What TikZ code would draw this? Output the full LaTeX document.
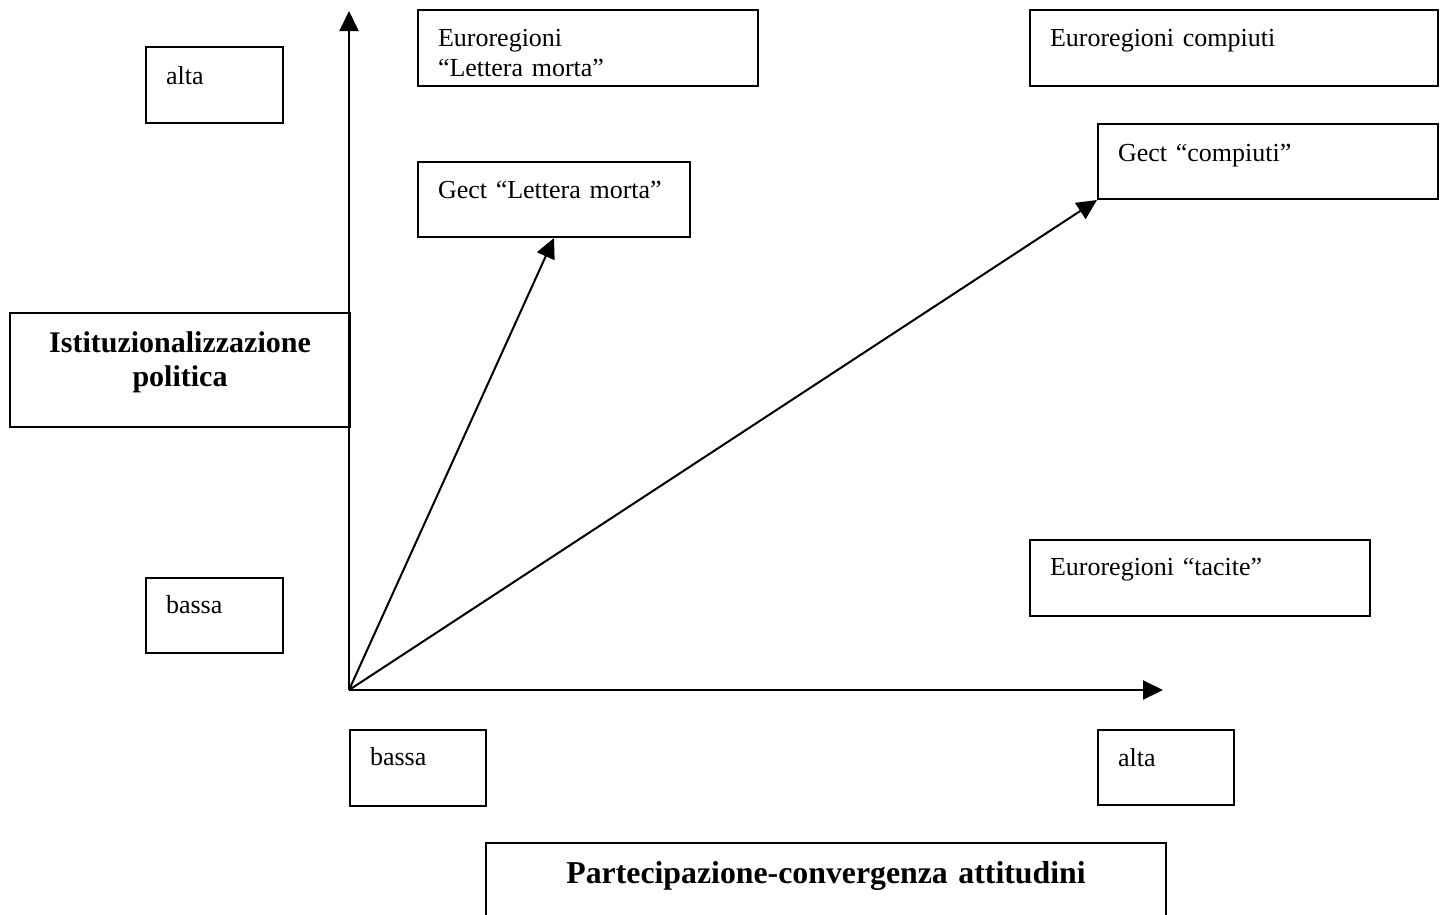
\documentclass[tikz,border=0pt]{standalone}
\usepackage{fontspec}
\setmainfont{Liberation Serif}
\usetikzlibrary{arrows.meta,positioning}

\newcommand{\txtfont}{\fontsize{26}{30}\selectfont}
\newcommand{\hdfont}{\fontsize{30}{34}\selectfont\bfseries}

\tikzset{
  % plain label box: text width, height above and depth below first baseline
  tbox/.style n args={3}{rectangle,draw,line width=2pt,
    anchor=north west,inner xsep=20pt,inner ysep=0pt,
    text width=#1,text height=#2,text depth=#3,
    align=left,font=\txtfont},
  % bold axis title box
  hbox/.style n args={3}{rectangle,draw,line width=2pt,
    anchor=north west,inner xsep=20pt,inner ysep=0pt,
    text width=#1,text height=#2,text depth=#3,
    align=center,font=\hdfont},
  % Arrows
  arr/.style={-{Triangle[length=20pt,width=19pt]},line width=2pt},
}

\begin{document}
\begin{tikzpicture}[x=1pt,y=-1pt]
  \clip (0,0) rectangle (1442,914);

  % axes
  \coordinate (o) at (349,690);
  \coordinate (ytop) at (349,11);
  \coordinate (xend) at (1163,690);

  % vertical axis labels
  \node[tbox={97pt}{37pt}{39pt}] (altay) at (145,46) {alta};
  \node[hbox={300pt}{39pt}{75pt}] (istit) at (9,312)
    {Istituzionalizzazione\\ politica};
  \node[tbox={97pt}{35pt}{40pt}] (bassay) at (145,577) {bassa};

  % horizontal axis labels
  \node[tbox={96pt}{35pt}{41pt}] (bassax) at (349,729) {bassa};
  \node[tbox={96pt}{36pt}{39pt}] (altax) at (1097,729) {alta};
  \node[hbox={640pt}{40pt}{50pt},font=\fontsize{31.8}{36}\selectfont\bfseries]
    (partec) at (485,842) {Partecipazione-convergenza attitudini};

  % types
  \node[tbox={300pt}{36pt}{40pt}] (eurolm) at (417,9)
    {Euroregioni\\ ``Lettera morta''};
  \node[tbox={232pt}{36pt}{39pt}] (gectlm) at (417,161)
    {Gect ``Lettera morta''};
  \node[tbox={368pt}{36pt}{40pt}] (euroc) at (1029,9)
    {Euroregioni compiuti};
  \node[tbox={300pt}{37pt}{38pt}] (gectc) at (1097,123)
    {Gect ``compiuti''};
  \node[tbox={300pt}{35pt}{41pt}] (eurot) at (1029,539)
    {Euroregioni ``tacite''};

  \draw[arr] (o) -- (ytop);
  \draw[arr] (o) -- (xend);
  \draw[arr] (o) -- (gectlm.south);
  \draw[arr] (o) -- (gectc.south west);
\end{tikzpicture}
\end{document}
